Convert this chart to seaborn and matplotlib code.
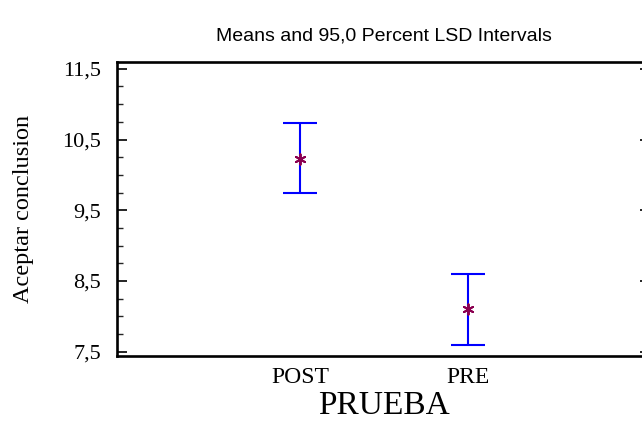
import numpy as np
import pandas as pd
import matplotlib
matplotlib.use("Agg")
import matplotlib.pyplot as plt
import seaborn as sns
from matplotlib.ticker import MultipleLocator, FuncFormatter

# Group means with their 95% LSD interval limits
groups = ["POST", "PRE"]
means = [10.23, 8.10]
lower = [9.74, 7.59]
upper = [10.73, 8.60]

sns.set_style("white")
plt.rcParams["font.family"] = ["Liberation Serif", "DejaVu Serif"]
plt.rcParams["text.color"] = "black"
plt.rcParams["axes.labelcolor"] = "black"

df = pd.DataFrame({"PRUEBA": groups, "mean": means, "low": lower, "high": upper})

fig = plt.figure(figsize=(6.42, 4.33), dpi=100)
ax = fig.add_axes([0.183, 0.1778, 0.8294, 0.6797])

yerr = np.array([df["mean"] - df["low"], df["high"] - df["mean"]])
ax.errorbar(df["PRUEBA"], df["mean"], yerr=yerr, fmt="none", ecolor="#0000ff",
            elinewidth=1.5, capsize=12, capthick=1.5, zorder=2)
sns.scatterplot(data=df, x="PRUEBA", y="mean", ax=ax, marker=(6, 2, 0), s=55,
                color="#8b0050", edgecolor="#8b0050", linewidth=1.4, zorder=3)

ax.set_xlim(-1.086, 2.083)
ax.set_ylim(7.44, 11.6)
ax.yaxis.set_minor_locator(MultipleLocator(0.25))
ax.set_yticks([7.5, 8.5, 9.5, 10.5, 11.5])
ax.yaxis.set_major_formatter(FuncFormatter(lambda v, p: f"{v:.1f}".replace(".", ",")))

for side in ["left", "top", "bottom", "right"]:
    ax.spines[side].set_visible(True)
    ax.spines[side].set_color("black")
    ax.spines[side].set_linewidth(1.9)

ax.tick_params(axis="y", which="major", direction="in", length=7.5, width=1.2,
               left=True, right=True, labelsize=16, pad=12, colors="black")
ax.tick_params(axis="y", which="minor", direction="in", length=4, width=1.0,
               left=True, right=False)
ax.tick_params(axis="x", length=0, labelsize=17, pad=8, colors="black")

ax.set_xlabel("PRUEBA", fontsize=24, labelpad=2)
ax.set_ylabel("Aceptar conclusion", fontsize=17.5, labelpad=20)
ax.set_title("Means and 95,0 Percent LSD Intervals", family=["Liberation Sans"],
             fontsize=14, pad=15)

fig.savefig("out.png", dpi=100)
